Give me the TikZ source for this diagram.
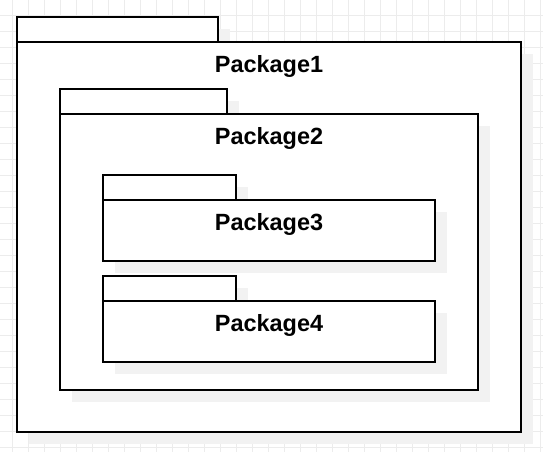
\documentclass[tikz,border=0pt]{standalone}
\usepackage{fontspec}
\setmainfont{Liberation Sans}
\usepackage{xcolor}
\usetikzlibrary{fit}
\definecolor{gridgray}{RGB}{236,236,236}
\definecolor{shadowgray}{RGB}{242,242,242}
\begin{document}
\begin{tikzpicture}[x=0.75pt,y=-0.75pt,
    pkgline/.style={draw=black,line width=1.1pt,fill=white,inner sep=0pt},
    pkgshadow/.style={fill=shadowgray,draw=none,inner sep=0pt},
    pkglabel/.style={font=\bfseries\fontsize{17.6}{20}\selectfont,inner sep=0pt,anchor=base}]
    \useasboundingbox (0,0) rectangle (543,452);
    \clip (0,0) rectangle (543,452);
    % background grid
    \foreach \gx in {0,...,33}
        \draw[gridgray,line width=0.75pt] ({12.7+16*\gx},0) -- ({12.7+16*\gx},452);
    \foreach \gy in {0,...,27}
        \draw[gridgray,line width=0.75pt] (0,{15.5+16*\gy}) -- (543,{15.5+16*\gy});
    % packages: name / left / tab top / body top / right / bottom / tab right
    \foreach \n/\xa/\yt/\yb/\xb/\yc/\xt in {Package1/17/17/42/521/432/218,
                                          Package2/60/89/114/478/390/227,
                                          Package3/103/175/200/435/261/236,
                                          Package4/103/276/301/435/362/236}{
        \node[pkgshadow,fit={({\xa+12},{\yt+12}) ({\xt+12},{\yb+12})}] (\n-tabsh) {};
        \node[pkgshadow,fit={({\xa+12},{\yb+12}) ({\xb+12},{\yc+12})}] (\n-sh) {};
        \node[pkgline,fit={(\xa,\yt) (\xt,\yb)}] (\n-tab) {};
        \node[pkgline,fit={(\xa,\yb) (\xb,\yc)}] (\n) {};
        \node[pkglabel] (\n-lbl) at ([yshift=-23.25pt]\n.north) {\n};
    }
\end{tikzpicture}
\end{document}
